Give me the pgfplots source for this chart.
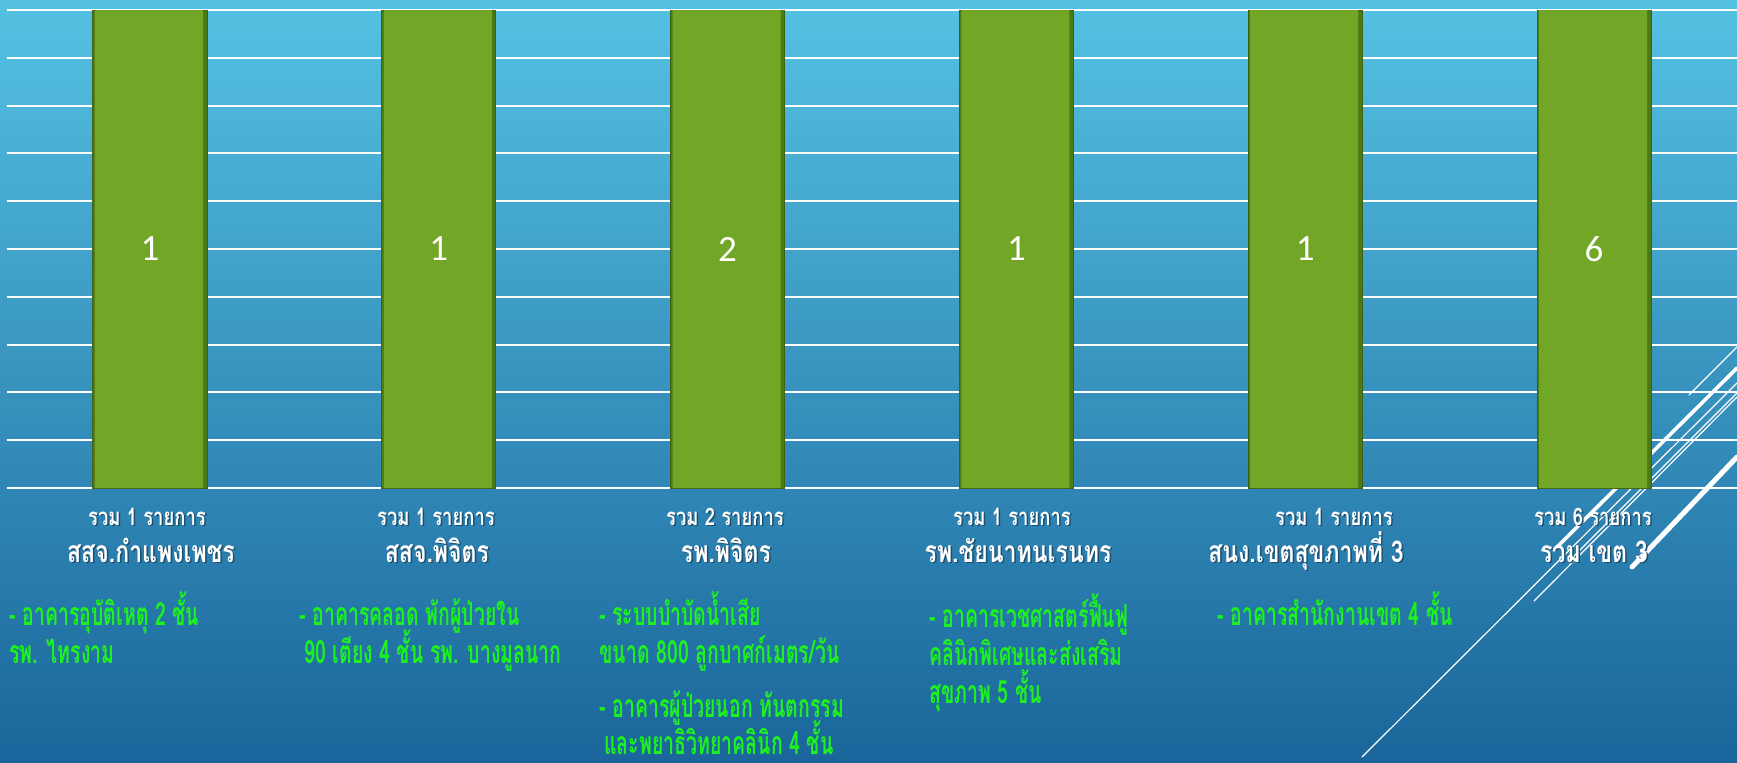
\documentclass[border=0pt]{standalone}
\usepackage{fontspec}
\usepackage{pgfplots}
\usepackage{pgfplotstable}
\pgfplotsset{compat=1.18}
\setmainfont{Carlito}
\newfontfamily\thaiw[Script=Thai, FakeStretch=0.77]{Loma}
\newfontfamily\thaig[Script=Thai, FakeStretch=0.61]{Loma}
\definecolor{bgtop}{HTML}{55C2E2}
\definecolor{bgbot}{HTML}{1A659B}
\definecolor{barfill}{HTML}{72A626}
\definecolor{baredge}{HTML}{4E7A16}
\definecolor{txtgreen}{HTML}{1EF21E}
\definecolor{shadowc}{HTML}{1D4E6E}

% items per unit, bars clipped at an axis max of 1
\pgfplotstableread{
x n
0 1
1 1
2 2
3 1
4 1
5 6
}\counts

\newcommand\wtext[4]{%
  \node[anchor=base, inner sep=0, text=shadowc, font=\thaiw\bfseries\fontsize{#3}{#3}\selectfont] at ({#1+1.5},{#2+1.5}) {#4};
  \node[anchor=base, inner sep=0, text=white, font=\thaiw\bfseries\fontsize{#3}{#3}\selectfont] at (#1,#2) {#4};}
\newcommand\gtext[3]{%
  \node[anchor=base west, inner sep=0, text depth=0pt, text=txtgreen, font=\thaig\bfseries\fontsize{16}{16}\selectfont] at (#1,#2) {#3};}

\begin{document}
\begin{tikzpicture}
\begin{scope}[x=0.5pt, y=-0.5pt]
\shade[top color=bgtop, bottom color=bgbot] (0,0) rectangle (1737,762);
\begin{scope}[white, line cap=round]
  \draw[line width=0.6pt] (1362,757) -- (1737,383);
  \draw[line width=1.8pt] (1554,550) -- (1737,368);
  \draw[line width=0.6pt] (1534,601) -- (1737,397);
  \draw[line width=0.6pt] (1570,560) -- (1737,393);
  \draw[line width=2.5pt] (1632,567) -- (1737,457);
  \draw[line width=0.6pt] (1689,395) -- (1737,347);
\end{scope}
\end{scope}

\begin{axis}[
  at={(3.5pt,-244pt)}, anchor=south west,
  scale only axis, width=865pt, height=239pt,
  xmin=-0.495, xmax=5.495, ymin=0, ymax=1,
  ybar, bar width=0.395, bar shift=0pt,
  axis line style={draw=none},
  xtick=\empty,
  ytick={0,0.1,0.2,0.3,0.4,0.5,0.6,0.7,0.8,0.9,1},
  yticklabels={}, major tick length=0pt,
  ymajorgrids, grid style={white, line width=1pt},
  /pgf/number format/assume math mode=true,
]
\addplot[fill=baredge, draw=baredge!80!black, line width=0.5pt] table[x=x, y=n] {\counts};
\addplot[fill=barfill, draw=none, bar width=0.374, bar shift=-0.0035] table[x=x, y=n] {\counts};
\addplot[draw=none, fill=none, nodes near coords, point meta=rawy,
  y filter/.expression={0.5}, nodes near coords align=center,
  every node near coord/.append style={text=white, font=\fontsize{18.5}{20}\selectfont}]
  table[x=x, y=n] {\counts};
\end{axis}

\begin{scope}[x=0.5pt, y=-0.5pt]
\wtext{147}{525}{12}{รวม 1 รายการ}
\wtext{436}{525}{12}{รวม 1 รายการ}
\wtext{725}{525}{12}{รวม 2 รายการ}
\wtext{1012}{525}{12}{รวม 1 รายการ}
\wtext{1334}{525}{12}{รวม 1 รายการ}
\wtext{1593}{525}{12}{รวม 6 รายการ}
\wtext{151}{562}{15}{สสจ.กำแพงเพชร}
\wtext{437}{562}{15}{สสจ.พิจิตร}
\wtext{726}{562}{15}{รพ.พิจิตร}
\wtext{1018}{562}{15}{รพ.ชัยนาทนเรนทร}
\wtext{1306}{562}{15}{สนง.เขตสุขภาพที่ 3}
\wtext{1594}{562}{15}{รวม เขต 3}
\gtext{9}{625}{- อาคารอุบัติเหตุ 2 ชั้น}
\gtext{9}{663}{รพ. ไทรงาม}
\gtext{299}{625}{- อาคารคลอด พักผู้ป่วยใน}
\gtext{304}{663}{90 เตียง 4 ชั้น รพ. บางมูลนาก}
\gtext{599}{625}{- ระบบบำบัดน้ำเสีย}
\gtext{599}{663}{ขนาด 800 ลูกบาศก์เมตร/วัน}
\gtext{599}{717}{- อาคารผู้ป่วยนอก ทันตกรรม}
\gtext{604}{754}{และพยาธิวิทยาคลินิก 4 ชั้น}
\gtext{929}{627}{- อาคารเวชศาสตร์ฟื้นฟู}
\gtext{929}{665}{คลินิกพิเศษและส่งเสริม}
\gtext{929}{703}{สุขภาพ 5 ชั้น}
\gtext{1217}{625}{- อาคารสำนักงานเขต 4 ชั้น}
\pgfresetboundingbox
\useasboundingbox (0,0) rectangle (1737,762);
\end{scope}
\end{tikzpicture}
\end{document}
